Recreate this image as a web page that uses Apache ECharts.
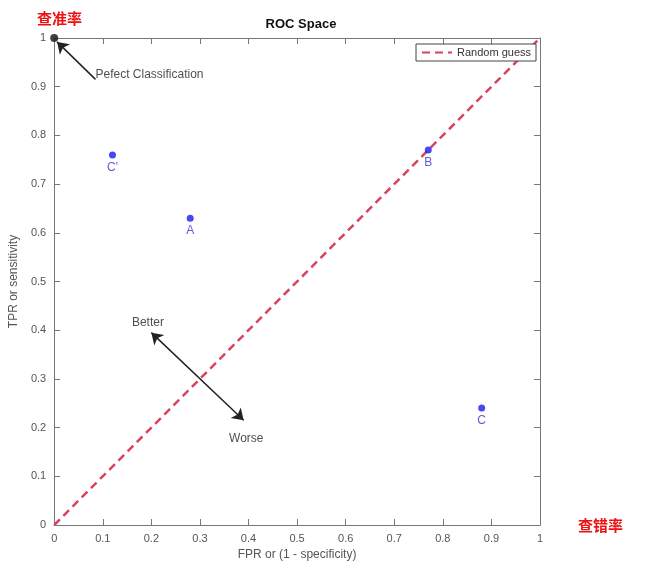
<!DOCTYPE html>
<html>
<head>
<meta charset="utf-8">
<script src="https://cdn.jsdelivr.net/npm/echarts@6/dist/echarts.min.js"></script>
<style>html,body{margin:0;padding:0;background:#fff}#main{width:647px;height:571px}</style>
</head>
<body>
<div id="main"></div>
<script>
// ROC space points
var pointNames = ["C'", 'A', 'B', 'C'];
var pointFpr = [0.12, 0.28, 0.77, 0.88];
var pointTpr = [0.76, 0.63, 0.77, 0.24];
var perfect = [0, 1];
var guessLine = [[0, 0], [1, 1]];
var perfectArrow = [[0.085, 0.915], [0.006, 0.992]];
var betterArrow = [[0.2, 0.395], [0.39, 0.215]];
var notes = [
  { text: 'Pefect Classification', pos: [0.085, 0.925] },
  { text: 'Better', pos: [0.16, 0.415] },
  { text: 'Worse', pos: [0.36, 0.178] }
];

var chart = echarts.init(document.getElementById('main'));
var grey = '#555';
var axisBase = {
  min: 0, max: 1, interval: 0.1,
  axisLine: { show: true, onZero: false, lineStyle: { color: '#777' } },
  axisTick: { show: true, inside: true, length: 6, lineStyle: { color: '#777' } },
  splitLine: { show: false },
  axisLabel: {
    color: grey, fontSize: 11, fontFamily: 'Liberation Sans',
    formatter: function (v) { return v === 0 || v === 1 ? String(v) : v.toFixed(1); }
  }
};
var points = pointNames.map(function (n, i) { return { name: n, value: [pointFpr[i], pointTpr[i]] }; });

var option = {
  backgroundColor: '#fff',
  title: {
    text: 'ROC Space', left: 296, top: 13, textAlign: 'center',
    textStyle: { fontSize: 13, fontWeight: 'bold', color: '#111', fontFamily: 'Liberation Sans' }
  },
  legend: {
    right: 111, top: 44, orient: 'vertical',
    data: ['Random guess'], itemWidth: 30, itemHeight: 2,
    borderColor: '#444', borderWidth: 1, borderRadius: 0, padding: [3, 5],
    backgroundColor: '#fff',
    textStyle: { fontSize: 11, color: '#333', fontFamily: 'Liberation Sans' }
  },
  grid: { left: 52, right: 107, top: 38, bottom: 46 },
  xAxis: [
    Object.assign({}, axisBase, {
      name: 'FPR or (1 - specificity)', nameLocation: 'middle', nameGap: 22,
      nameTextStyle: { color: grey, fontSize: 12, fontFamily: 'Liberation Sans' }
    }),
    Object.assign({}, axisBase, { position: 'top', axisLabel: { show: false } })
  ],
  yAxis: [
    Object.assign({}, axisBase, {
      name: 'TPR or sensitivity', nameLocation: 'middle', nameGap: 34,
      nameTextStyle: { color: grey, fontSize: 12, fontFamily: 'Liberation Sans' }
    }),
    Object.assign({}, axisBase, { position: 'right', axisLabel: { show: false } })
  ],
  graphic: [
    { type: 'text', left: 36, top: 10, style: { text: '查准率', fill: '#ee1111', font: 'bold 15px "Noto Sans CJK SC"', stroke: '#fff', lineWidth: 2 } },
    { type: 'text', left: 577, top: 517, style: { text: '查错率', fill: '#ee1111', font: 'bold 15px "Noto Sans CJK SC"', stroke: '#fff', lineWidth: 2 } }
  ],
  series: [
    {
      name: 'Random guess', type: 'line', data: guessLine, symbol: 'none',
      lineStyle: { color: '#d9435c', width: 2.5, type: [8, 5] },
      itemStyle: { color: '#d9435c' }, z: 2
    },
    {
      type: 'scatter', data: points, symbolSize: 7,
      itemStyle: { color: '#1a1aee' },
      label: { show: true, position: 'bottom', distance: 3, formatter: '{b}', color: '#3333cc', fontSize: 12, fontFamily: 'Liberation Sans' }
    },
    {
      type: 'scatter', data: [perfect], symbolSize: 8, itemStyle: { color: '#111' }
    },
    {
      type: 'lines', coordinateSystem: 'cartesian2d', polyline: false,
      symbol: ['none', 'arrow'], symbolSize: 11,
      lineStyle: { color: '#222', width: 1.5, opacity: 1 },
      data: [{ coords: perfectArrow }]
    },
    {
      type: 'lines', coordinateSystem: 'cartesian2d',
      symbol: ['arrow', 'arrow'], symbolSize: 11,
      lineStyle: { color: '#222', width: 1.5, opacity: 1 },
      data: [{ coords: betterArrow }]
    },
    {
      type: 'scatter', symbolSize: 0,
      data: notes.map(function (n) { return { name: n.text, value: n.pos }; }),
      label: { show: true, position: 'right', distance: 0, formatter: '{b}', color: '#222', fontSize: 12, fontFamily: 'Liberation Sans' }
    }
  ]
};
chart.setOption(option);
</script>
</body>
</html>
